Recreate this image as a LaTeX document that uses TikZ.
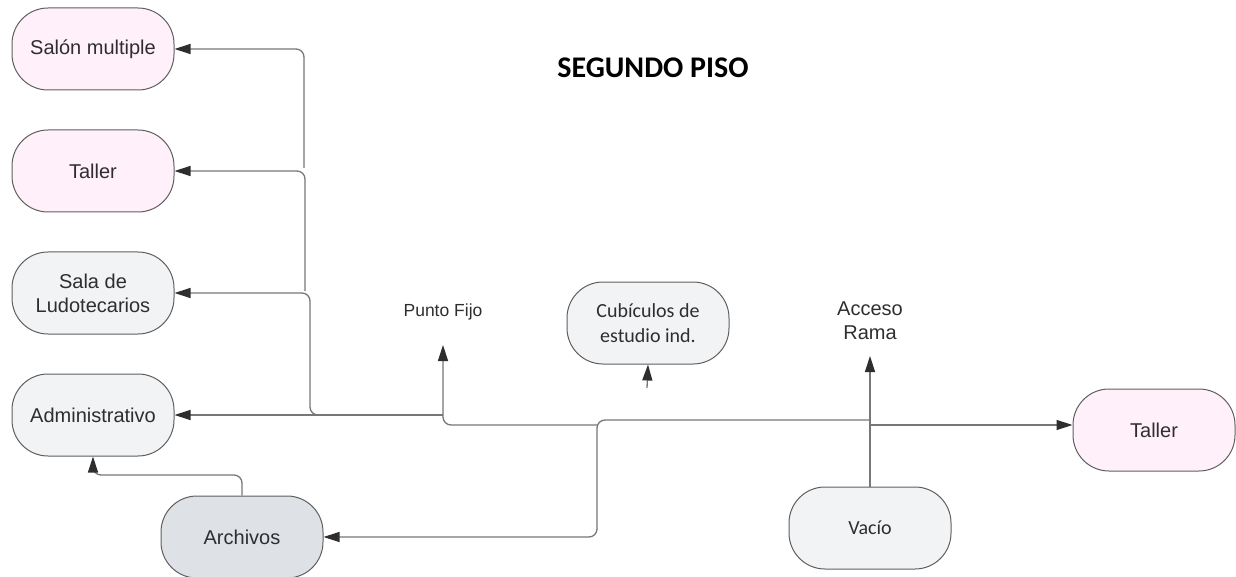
\documentclass[tikz,border=0pt]{standalone}
\usepackage{fontspec}
\setmainfont{Liberation Sans}
\newfontfamily\calibri{Carlito}
\usetikzlibrary{arrows.meta}
\definecolor{rosa}{HTML}{FFF0FA}
\definecolor{gris}{HTML}{F2F3F5}
\definecolor{grisosc}{HTML}{DEE1E6}
\definecolor{borde}{HTML}{5F5F5F}
\definecolor{linea}{HTML}{777777}
\definecolor{texto}{HTML}{2E2E2E}
\begin{document}
\begin{tikzpicture}[x=1pt,y=-1pt,
    espacio/.style={draw=borde,line width=1pt,rounded corners=36pt,minimum width=162pt,
      minimum height=82pt,align=center,text=texto,inner sep=0pt,font=\fontsize{20}{24}\selectfont},
    espaciocal/.style={espacio,font=\calibri\fontsize{20}{25}\selectfont},
    etiqueta/.style={align=center,text=texto,inner sep=0pt,font=\fontsize{20}{24}\selectfont},
    conector/.style={draw=linea,line width=1.3pt,rounded corners=8pt,
      -{Triangle[length=16pt,width=10pt,color=texto]}}]
  \useasboundingbox (0,0) rectangle (1236,577);

  \node[font=\calibri\bfseries\fontsize{30}{36}\selectfont] (titulo) at (653,68) {SEGUNDO PISO};

  \node[espacio,fill=rosa] (salon) at (93,49) {Salón multiple};
  \node[espacio,fill=rosa] (tallerA) at (93,171) {Taller};
  \node[espacio,fill=gris] (sala) at (93,293) {Sala de\\Ludotecarios};
  \node[espacio,fill=gris] (admin) at (93,415) {Administrativo};
  \node[espacio,fill=grisosc] (archivos) at (242,537) {Archivos};
  \node[espaciocal,fill=gris] (cubiculos) at (648,323) {Cubículos de\\estudio ind.};
  \node[espaciocal,fill=gris] (vacio) at (870,528) {Vacío};
  \node[espacio,fill=rosa] (tallerB) at (1154,430) {Taller};
  \node[etiqueta,font=\fontsize{17.5}{21}\selectfont] (punto) at (443,312) {Punto Fijo};
  \node[etiqueta] (acceso) at (870,321) {Acceso\\Rama};

  \coordinate (pAcceso) at (870,356);
  \coordinate (jVacio) at (870,425);
  \coordinate (jRama) at (870,420);
  \coordinate (jCruce) at (597,425);
  \coordinate (pPunto) at (443,345);
  \coordinate (jPunto) at (443,415);
  \coordinate (jSala) at (310,293);
  \coordinate (jTaller) at (305,291);
  \coordinate (jSalon) at (304,168);
  \coordinate (cArch) at (93,475);
  \coordinate (cCub) at (647,388);

  \draw[conector] (vacio.north) -- (pAcceso);
  \draw[conector] (jVacio) -- (tallerB.west |- jVacio);
  \draw[conector] (jRama) -| (597,537) -- (archivos.east);
  \draw[conector] (jCruce) -| (pPunto);
  \draw[conector] (jPunto) -- (admin.east);
  \draw[conector] (jPunto) -| (jSala) -- (sala.east);
  \draw[conector] (jTaller) |- (tallerA.east);
  \draw[conector] (jSalon) |- (salon.east);
  \draw[conector] (archivos.north) |- (cArch) -- (admin.south);
  \draw[conector] (cCub) -- (cubiculos.south);
\end{tikzpicture}
\end{document}
